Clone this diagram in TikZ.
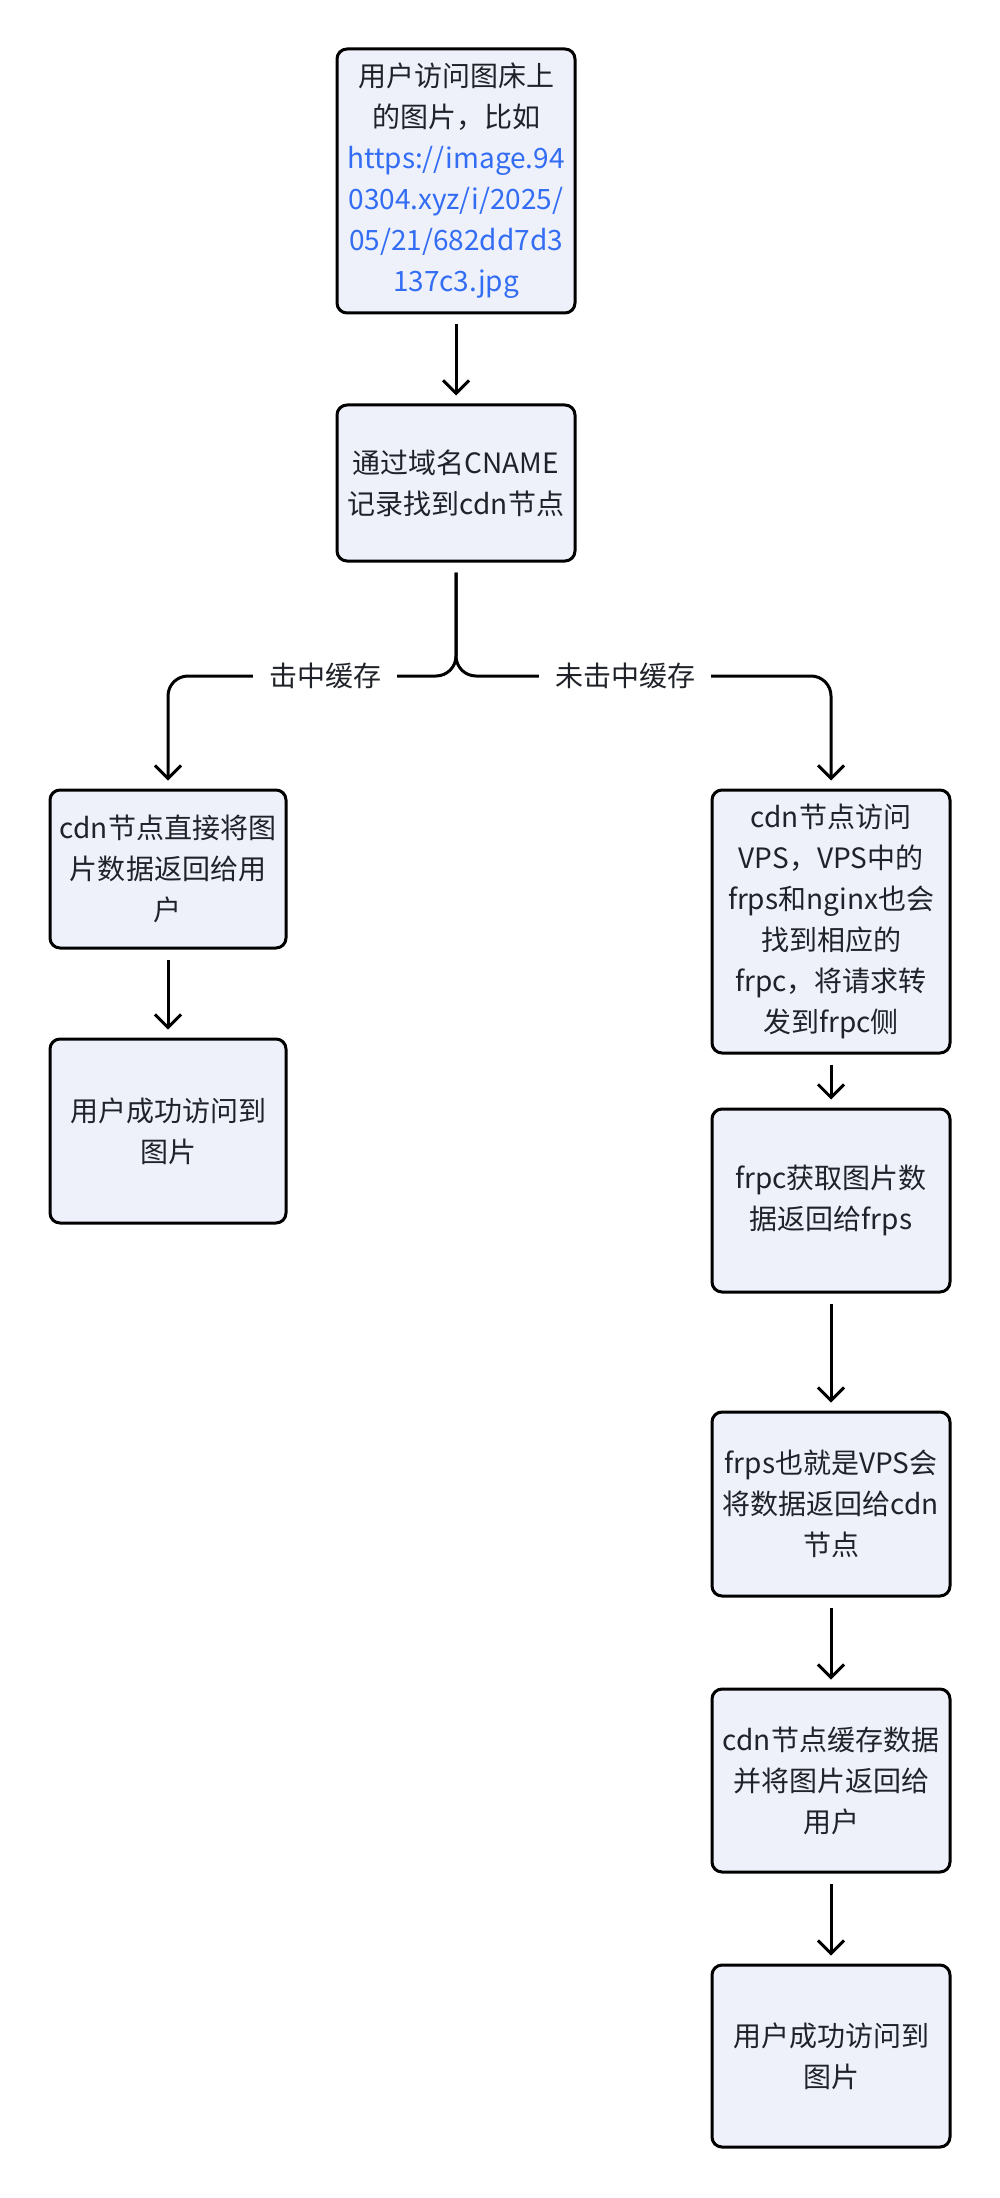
\documentclass[tikz,border=0pt]{standalone}
\usepackage{fontspec}
\setmainfont{Noto Sans CJK SC}
\usetikzlibrary{arrows.meta}
\definecolor{boxfill}{HTML}{EEF1FA}
\definecolor{txt}{HTML}{1F2329}
\definecolor{link}{HTML}{336DF4}
\tikzset{
  box/.style={draw=black, line width=1.5pt, fill=boxfill, rounded corners=5pt,
    minimum width=119pt, align=center, text=txt, inner sep=2pt,
    font={\fontsize{14pt}{20.5pt}\selectfont}},
  arr/.style={line width=1.5pt, -{Straight Barb[length=6.5pt,width=13pt]},
    shorten <=5pt, shorten >=4pt},
  lbl/.style={fill=white, inner xsep=8pt, inner ysep=3pt, text=txt,
    font={\fontsize{14pt}{17pt}\selectfont}}
}
\begin{document}
\begin{tikzpicture}[x=0.5pt,y=-0.5pt]
\fill[white] (0,0) rectangle (1000,2198);
\useasboundingbox (0,0) rectangle (1000,2198);

\node[box, minimum height=132pt] (B1) at (456,181)
  {用户访问图床上\\的图片，比如\\\textcolor{link}{https://image.94}\\\textcolor{link}{0304.xyz/i/2025/}\\\textcolor{link}{05/21/682dd7d3}\\\textcolor{link}{137c3.jpg}};
\node[box, minimum height=78pt] (B2) at (456,483)
  {通过域名CNAME\\记录找到cdn节点};
\coordinate (J) at (456,676);

\node[box, minimum width=118pt, minimum height=79pt] (B3) at (168,869)
  {cdn节点直接将图\\片数据返回给用\\户};
\node[box, minimum width=118pt, minimum height=92pt] (B4) at (168,1131)
  {用户成功访问到\\图片};

\node[box, minimum height=131.5pt] (B5) at (831,921.5)
  {cdn节点访问\\VPS，VPS中的\\frps和nginx也会\\找到相应的\\frpc，将请求转\\发到frpc侧};
\node[box, minimum height=91.5pt] (B6) at (831,1200.5)
  {frpc获取图片数\\据返回给frps};
\node[box, minimum height=92pt] (B7) at (831,1504)
  {frps也就是VPS会\\将数据返回给cdn\\节点};
\node[box, minimum height=91.5pt] (B8) at (831,1780.5)
  {cdn节点缓存数据\\并将图片返回给\\用户};
\node[box, minimum height=91pt] (B9) at (831,2056)
  {用户成功访问到\\图片};

\draw[arr] (B1.south) -- (B2.north);
\draw[arr, rounded corners=10pt] (B2.south) -- (J) -| (B3.north);
\draw[arr, rounded corners=10pt] (B2.south) -- (J) -| (B5.north);
\node[lbl] (L1) at (325,676) {击中缓存};
\node[lbl] (L2) at (625,676) {未击中缓存};

\draw[arr] (B3.south) -- (B4.north);
\draw[arr] (B5.south) -- (B6.north);
\draw[arr] (B6.south) -- (B7.north);
\draw[arr] (B7.south) -- (B8.north);
\draw[arr] (B8.south) -- (B9.north);
\end{tikzpicture}
\end{document}
